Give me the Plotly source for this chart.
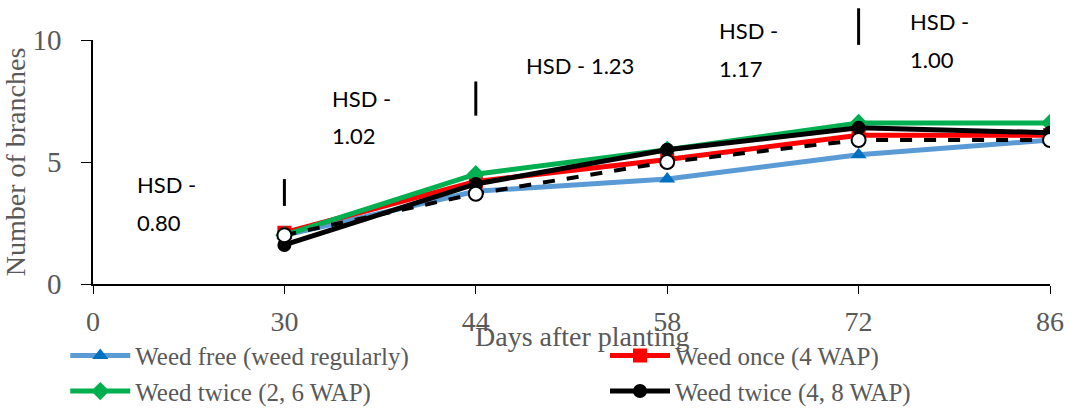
import plotly.graph_objects as go

categories = ["0", "30", "44", "58", "72", "86"]
days = ["30", "44", "58", "72", "86"]
weed_free = [2.0, 3.8, 4.3, 5.3, 5.9]
weed_once = [2.1, 4.2, 5.1, 6.1, 6.1]
weed_twice_26 = [2.0, 4.5, 5.5, 6.6, 6.6]
weed_twice_48 = [1.6, 4.1, 5.5, 6.4, 6.2]
unlabelled = [2.0, 3.7, 5.0, 5.9, 5.9]

hsd_vals = ["0.80", "1.02", "1.23", "1.17", "1.00"]

xpos = [categories.index(d) for d in days]

SERIF = "Liberation Serif"
SANS = "Lato"
grey = "#595959"

fig = go.Figure()
series = [
    ("Weed free (weed regularly)", weed_free, "#5B9BD5", "triangle-up", "#0070C0", "legend"),
    ("Weed once (4 WAP)", weed_once, "#FF0000", "square", "#FF0000", "legend2"),
    ("Weed twice (2, 6 WAP)", weed_twice_26, "#00B050", "diamond", "#00B050", "legend"),
    ("Weed twice (4, 8 WAP)", weed_twice_48, "#000000", "circle", "#000000", "legend2"),
]
for name, vals, col, sym, mcol, lg in series:
    fig.add_trace(go.Scatter(
        x=xpos, y=vals, name=name, mode="lines+markers", legend=lg,
        line=dict(color=col, width=5),
        marker=dict(symbol=sym, size=14, color=mcol)))
fig.add_trace(go.Scatter(
    x=xpos, y=unlabelled, mode="lines+markers", showlegend=False,
    line=dict(color="#000000", width=4, dash="dash"),
    marker=dict(symbol="circle", size=14, color="white", line=dict(color="black", width=2))))

# HSD labels (paper coordinates so they can sit above the plot area)
hsd_text_x = [0.22, 1.24, 2.25, 3.26, 4.26]
hsd_y1 = [4.06, 7.6, 8.95, 10.4, 10.75]
hsd_y2 = [2.54, 6.08, None, 8.85, 9.2]
for i, v in enumerate(hsd_vals):
    lines = [("HSD - " + v, hsd_y1[i])] if hsd_y2[i] is None else [("HSD -", hsd_y1[i]), (v, hsd_y2[i])]
    for txt, yy in lines:
        fig.add_annotation(x=hsd_text_x[i], y=yy / 10, xref="x", yref="paper", text=txt,
                           showarrow=False, xanchor="left", yanchor="middle",
                           font=dict(family=SANS, size=22, color="black"))

# HSD bars
bar_x = [1, 2, 4]
bar_lo = [3.2, 6.9, 9.8]
bar_hi = [4.3, 8.3, 11.3]
for bx, lo, hi in zip(bar_x, bar_lo, bar_hi):
    fig.add_shape(type="line", xref="x", yref="paper", x0=bx, x1=bx,
                  y0=lo / 10, y1=hi / 10, line=dict(color="black", width=3))

# x-axis title (sits just under the tick labels, as in the original)
fig.add_annotation(x=0.511, y=-0.215, xref="paper", yref="paper", text="Days after planting",
                   showarrow=False, xanchor="center", yanchor="middle",
                   font=dict(family=SERIF, size=28, color=grey))

legend_common = dict(orientation="v", yanchor="top", xanchor="left", y=-0.20,
                     font=dict(family=SERIF, size=25, color=grey),
                     tracegroupgap=0, itemwidth=60, bgcolor="rgba(0,0,0,0)")

fig.update_layout(
    width=1078, height=414,
    margin=dict(l=93, r=28, t=40, b=130, autoexpand=False),
    plot_bgcolor="white", paper_bgcolor="white",
    font=dict(family=SERIF, color=grey, size=24),
    xaxis=dict(range=[0, 5], tickmode="array", tickvals=list(range(len(categories))),
               ticktext=categories, showgrid=False, showline=True, linecolor="black",
               linewidth=1.5, ticks="outside", ticklen=8, tickcolor="black",
               tickfont=dict(family=SERIF, size=28, color=grey), zeroline=False,
               ticklabelstandoff=4),
    yaxis=dict(range=[0, 10], tickvals=[0, 5, 10], showgrid=False, showline=True,
               linecolor="black", linewidth=1.5, ticks="outside", ticklen=10,
               tickcolor="black", tickfont=dict(family=SERIF, size=29, color=grey),
               zeroline=False, ticklabelstandoff=14,
               title=dict(text="Number of branches", standoff=2,
                          font=dict(family=SERIF, size=28, color=grey))),
    legend=dict(x=-0.029, **legend_common),
    legend2=dict(x=0.535, **legend_common),
)

fig.write_html("out.html")
